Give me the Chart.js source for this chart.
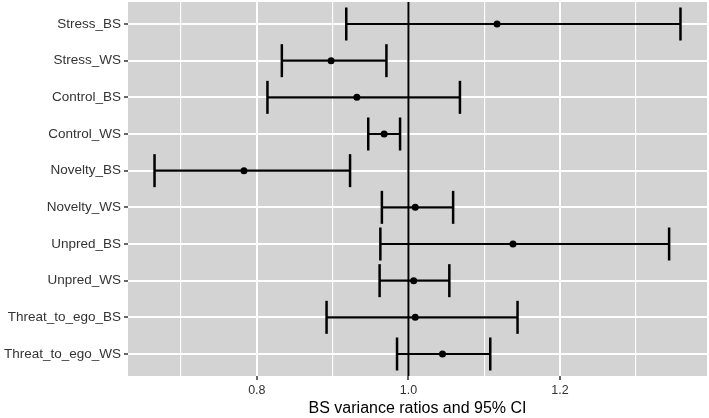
<!DOCTYPE html>
<html>
<head>
<meta charset="utf-8">
<script src="https://cdn.jsdelivr.net/npm/chart.js@4/dist/chart.umd.min.js"></script>
<style>
  body { margin: 0; background: #fff; }
  #wrap { width: 709px; height: 418px; }
</style>
</head>
<body>
<div id="wrap"><canvas id="myChart"></canvas></div>
<script>
// rows, top to bottom
var rowLabels = ['Stress_BS', 'Stress_WS', 'Control_BS', 'Control_WS', 'Novelty_BS',
                 'Novelty_WS', 'Unpred_BS', 'Unpred_WS', 'Threat_to_ego_BS', 'Threat_to_ego_WS'];
var ratio = [1.117, 0.898, 0.932, 0.968, 0.783, 1.009, 1.138, 1.007, 1.009, 1.045];
var ciLow = [0.918, 0.833, 0.814, 0.947, 0.665, 0.965, 0.963, 0.962, 0.892, 0.985];
var ciHigh = [1.359, 0.971, 1.068, 0.989, 0.923, 1.059, 1.344, 1.054, 1.144, 1.108];
var xTicks = [0.7, 0.8, 0.9, 1.0, 1.1, 1.2, 1.3];
var refLine = 1.0;

var ctx = document.getElementById('myChart');
var FONT = 'Liberation Sans, Arial, sans-serif';

function isMajor(v) {
    return Math.round(v * 10) % 2 === 0;
}

// grey panel like ggplot
var panelBg = {
    id: 'panelBg',
    beforeDraw: function(chart) {
        var a = chart.chartArea;
        chart.ctx.save();
        chart.ctx.fillStyle = '#d3d3d3';
        chart.ctx.fillRect(a.left, a.top, a.right - a.left, a.bottom - a.top);
        chart.ctx.restore();
    }
};

var datasets = [];

// whiskers, one per row
rowLabels.forEach(function(lab, i) {
    datasets.push({
        data: [{x: ciLow[i], y: i + 1}, {x: ciHigh[i], y: i + 1}],
        showLine: true,
        borderColor: '#000',
        borderWidth: 2.2,
        pointRadius: 0
    });
});

// end caps
var caps = [];
rowLabels.forEach(function(lab, i) {
    caps.push({x: ciLow[i], y: i + 1});
    caps.push({x: ciHigh[i], y: i + 1});
});
datasets.push({
    data: caps,
    pointStyle: 'line',
    rotation: 90,
    pointRadius: 16.5,
    borderColor: '#000',
    pointBorderWidth: 2.5
});

// vertical reference line
datasets.push({
    data: [{x: refLine, y: 0.4}, {x: refLine, y: 10.6}],
    showLine: true,
    borderColor: '#000',
    borderWidth: 2,
    pointRadius: 0
});

// point estimates
datasets.push({
    data: ratio.map(function(v, i) { return {x: v, y: i + 1}; }),
    pointRadius: 3.5,
    backgroundColor: '#000',
    borderColor: '#000',
    borderWidth: 0
});

var chart = new Chart(ctx, {
    type: 'scatter',
    data: { datasets: datasets },
    options: {
        responsive: true,
        maintainAspectRatio: false,
        animation: false,
        layout: { autoPadding: false, padding: { top: 2, right: 2, left: 0, bottom: 0 } },
        plugins: {
            legend: { display: false },
            tooltip: { enabled: false }
        },
        scales: {
            x: {
                type: 'linear',
                min: 0.63,
                max: 1.394,
                afterBuildTicks: function(axis) {
                    axis.ticks = xTicks.map(function(v) { return {value: v}; });
                },
                afterFit: function(axis) {
                    axis.height = 42;
                    axis.paddingLeft = 0;
                    axis.paddingRight = 0;
                },
                border: { display: false },
                grid: {
                    color: '#fff',
                    lineWidth: function(c) { return isMajor(c.tick.value) ? 2 : 1.2; },
                    tickColor: function(c) { return isMajor(c.tick.value) ? '#333' : 'rgba(0,0,0,0)'; },
                    tickLength: 4,
                    tickWidth: 1.5
                },
                ticks: {
                    autoSkip: false,
                    maxRotation: 0,
                    padding: 3,
                    color: '#333',
                    font: { family: FONT, size: 12.5 },
                    callback: function(v) { return isMajor(v) ? v.toFixed(1) : ''; }
                },
                title: {
                    display: true,
                    text: 'BS variance ratios and 95% CI',
                    color: '#000',
                    font: { family: FONT, size: 16 },
                    padding: 0
                }
            },
            y: {
                type: 'linear',
                reverse: true,
                min: 0.4,
                max: 10.6,
                afterBuildTicks: function(axis) {
                    axis.ticks = rowLabels.map(function(l, i) { return {value: i + 1}; });
                },
                afterFit: function(axis) {
                    axis.width = 128;
                    axis.paddingTop = 0;
                    axis.paddingBottom = 0;
                },
                border: { display: false },
                grid: {
                    color: '#fff',
                    lineWidth: 2,
                    tickColor: '#333',
                    tickLength: 4,
                    tickWidth: 1.5
                },
                ticks: {
                    autoSkip: false,
                    padding: 3,
                    color: '#333',
                    font: { family: FONT, size: 13.5 },
                    callback: function(v) { return rowLabels[v - 1]; }
                }
            }
        }
    },
    plugins: [panelBg]
});
</script>
</body>
</html>
